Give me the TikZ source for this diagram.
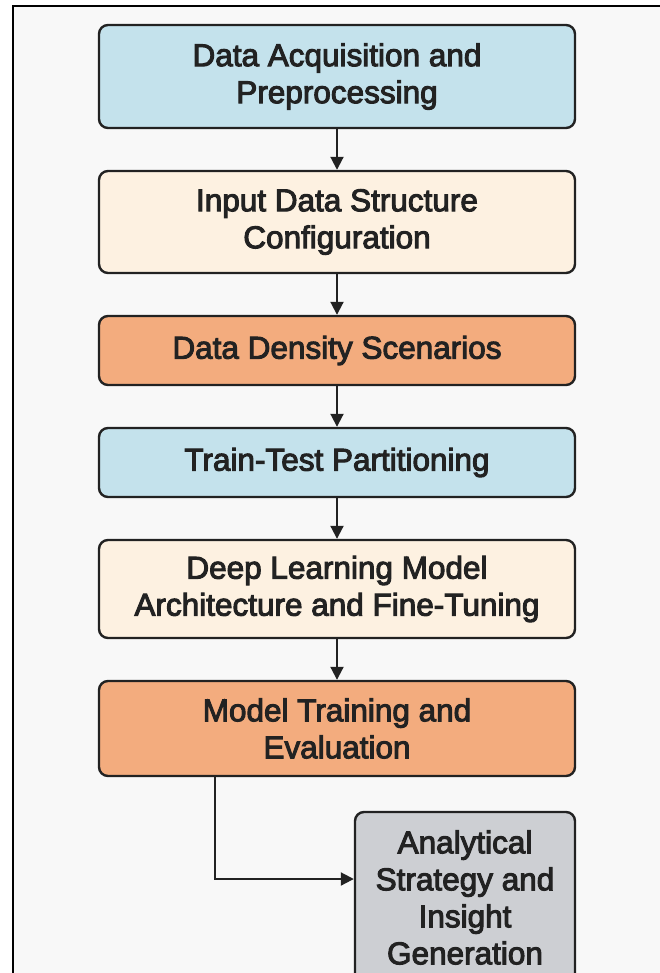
\documentclass[tikz,border=0pt]{standalone}
\usepackage{fontspec}
\newfontfamily\labfont{Liberation Sans}[FakeBold=3.2]
\usetikzlibrary{arrows.meta}
\definecolor{cblue}{HTML}{C4E2EC}
\definecolor{ccream}{HTML}{FDF1E1}
\definecolor{corange}{HTML}{F3AC7E}
\definecolor{cgray}{HTML}{CDCFD3}
\definecolor{cbg}{HTML}{F8F8F8}
\definecolor{cline}{HTML}{222222}
\tikzset{
  stagebox/.style={draw=cline, line width=2.4pt, rounded corners=9pt, minimum width=476pt,
    inner sep=0pt, align=center, text=cline,
    font=\labfont\fontsize{31.5}{37}\selectfont},
  flow/.style={draw=cline, line width=2pt, -{Triangle[length=13pt,width=13pt]}},
}
\begin{document}
\begin{tikzpicture}[x=1pt,y=-1pt]
\useasboundingbox (0,0) rectangle (660,973);
\clip (0,0) rectangle (660,973);
\fill[white] (0,0) rectangle (660,973);
\draw[line width=2.5pt, draw=black, fill=cbg] (13,6) rectangle (700,1020);
\node[stagebox, fill=cblue, minimum height=103pt] (b1) at (337,76.5) {Data Acquisition and\\Preprocessing};
\node[stagebox, fill=ccream, minimum height=102pt] (b2) at (337,222) {Input Data Structure\\Configuration};
\node[stagebox, fill=corange, minimum height=69pt] (b3) at (337,350.5) {Data Density Scenarios};
\node[stagebox, fill=cblue, minimum height=69pt] (b4) at (337,462.5) {Train-Test Partitioning};
\node[stagebox, fill=ccream, minimum height=98pt] (b5) at (337,589) {Deep Learning Model\\Architecture and Fine-Tuning};
\node[stagebox, fill=corange, minimum height=95pt] (b6) at (337,728.5) {Model Training and\\Evaluation};
\node[stagebox, fill=cgray, minimum width=220pt, minimum height=171pt] (b7) at (465,897.5) {Analytical\\Strategy and\\Insight\\Generation};
\draw[flow] (b1) -- (b2);
\draw[flow] (b2) -- (b3);
\draw[flow] (b3) -- (b4);
\draw[flow] (b4) -- (b5);
\draw[flow] (b5) -- (b6);
\coordinate (elbow) at (215,879);
\draw[flow] (b6.south -| elbow) -- (elbow) -- (elbow -| b7.west);
\end{tikzpicture}
\end{document}
